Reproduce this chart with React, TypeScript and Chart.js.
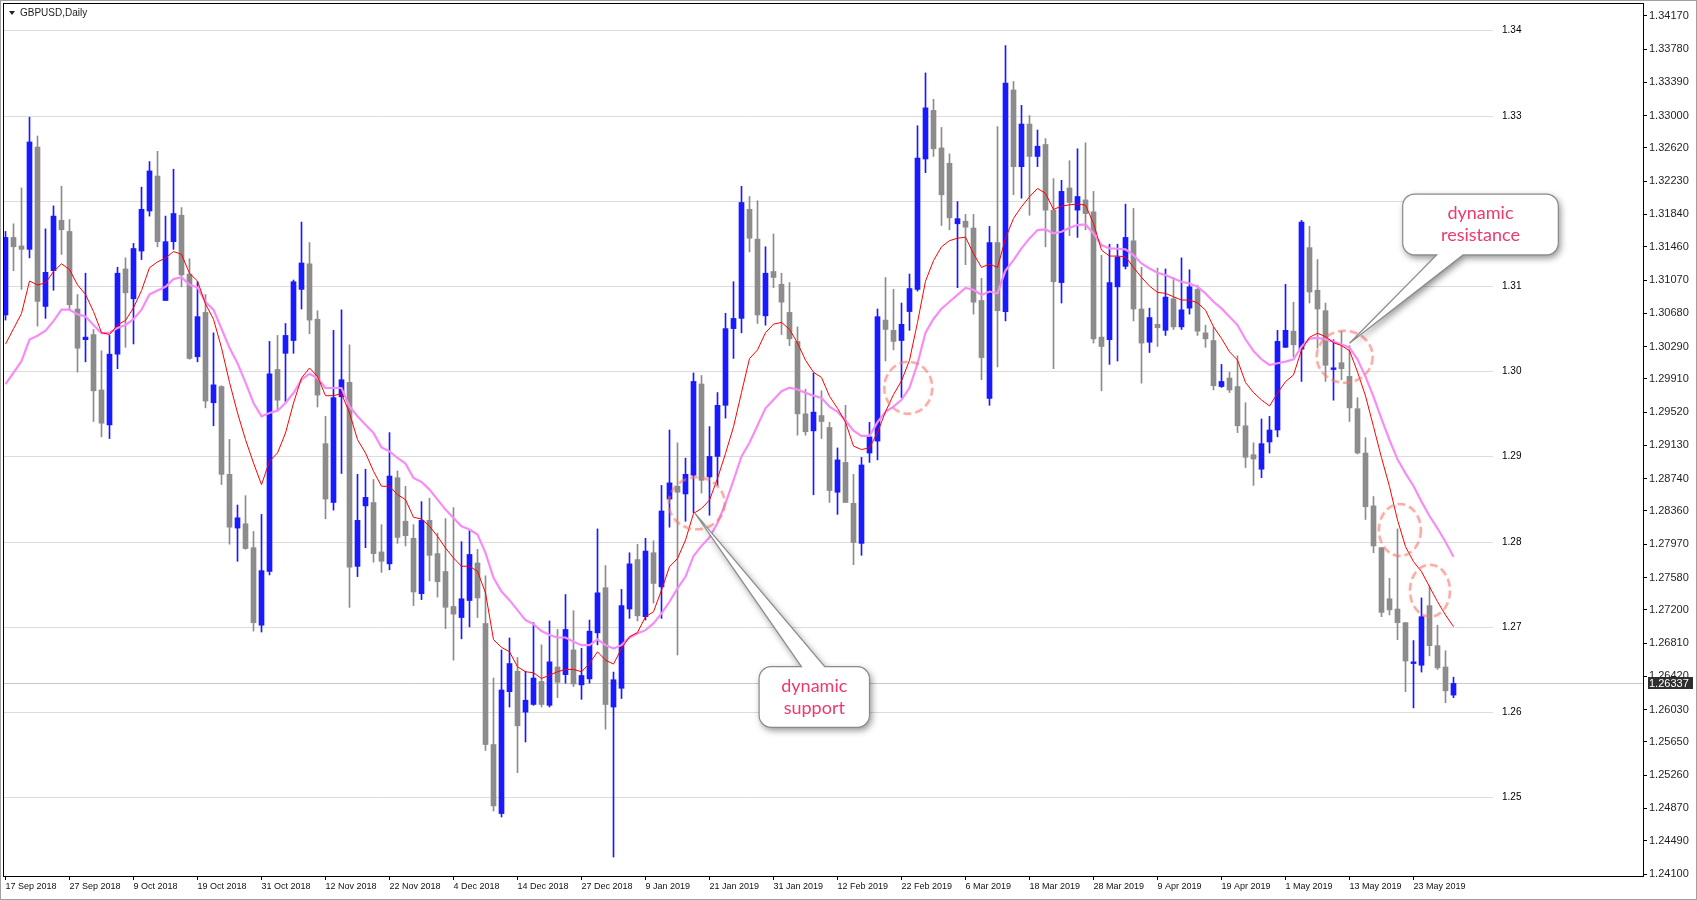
import React, { useEffect, useRef } from "react";
import { Chart, registerables } from "chart.js";

Chart.register(...registerables);

// ---------- DATA (GBPUSD Daily, one value per candle) ----------
const openP = [
  1.3066, 1.3157, 1.3147, 1.3143, 1.3263, 1.3076, 1.3118, 1.3177, 1.3164, 1.3073,
  1.3037, 1.3043, 1.2978, 1.2937, 1.3020, 1.3120, 1.3085, 1.3141, 1.3188, 1.3229,
  1.3083, 1.3152, 1.3183, 1.3114, 1.3017, 1.3069, 1.2963, 1.2982, 1.2879, 1.2816,
  1.2821, 1.2793, 1.2702, 1.2765, 1.3002, 1.3021, 1.3036, 1.3096, 1.3126, 1.3061,
  1.2915, 1.2846, 1.2970, 1.2987, 1.2771, 1.2842, 1.2846, 1.2788, 1.2774, 1.2875,
  1.2824, 1.2804, 1.2739, 1.2825, 1.2786, 1.2765, 1.2724, 1.2711, 1.2731, 1.2775,
  1.2704, 1.2562, 1.2481, 1.2624, 1.2648, 1.2600, 1.2609, 1.2636, 1.2608, 1.2653,
  1.2644, 1.2673, 1.2632, 1.2639, 1.2693, 1.2746, 1.2606, 1.2628, 1.2721, 1.2779,
  1.2712, 1.2787, 1.2747, 1.2850, 1.2865, 1.2856, 1.2878, 1.2985, 1.2876, 1.2900,
  1.2960, 1.3050, 1.3062, 1.3190, 1.3155, 1.3065, 1.3117, 1.3102, 1.3069, 1.3035,
  1.2950, 1.2930, 1.2948, 1.2934, 1.2858, 1.2893, 1.2845, 1.2798, 1.2904, 1.2918,
  1.3060, 1.3048, 1.3036, 1.3070, 1.3096, 1.3249, 1.3306, 1.3262, 1.3244, 1.3173,
  1.3176, 1.3168, 1.3083, 1.2968, 1.3151, 1.3070, 1.3330, 1.3240, 1.3290, 1.3252,
  1.3266, 1.3189, 1.3104, 1.3215, 1.3189, 1.3201, 1.3187, 1.3040, 1.3037, 1.3099,
  1.3123, 1.3153, 1.3073, 1.3034, 1.3055, 1.3048, 1.3085, 1.3052, 1.3074, 1.3096,
  1.3045, 1.3036, 1.2982, 1.2992, 1.2982, 1.2936, 1.2902, 1.2885, 1.2917, 1.2931,
  1.3028, 1.3047, 1.3026, 1.3145, 1.3095, 1.3071, 1.3002, 1.3010, 1.2994, 1.2956,
  1.2904, 1.2842, 1.2793, 1.2733, 1.2721, 1.2705, 1.2657, 1.2655, 1.2725, 1.2678,
  1.2653, 1.2620,
];
const highP = [
  1.3164, 1.3173, 1.3215, 1.3298, 1.3276, 1.3167, 1.3194, 1.3217, 1.3178, 1.3090,
  1.3115, 1.3049, 1.3024, 1.3042, 1.3122, 1.3133, 1.3150, 1.3216, 1.3246, 1.3258,
  1.3182, 1.3237, 1.3192, 1.3132, 1.3105, 1.3090, 1.3045, 1.2983, 1.2920, 1.2843,
  1.2854, 1.2812, 1.2832, 1.3035, 1.3042, 1.3056, 1.3107, 1.3175, 1.3151, 1.3071,
  1.2947, 1.3048, 1.3072, 1.3031, 1.2879, 1.2885, 1.2873, 1.2820, 1.2928, 1.2883,
  1.2865, 1.2820, 1.2847, 1.2851, 1.2810, 1.2827, 1.2840, 1.2800, 1.2813, 1.2791,
  1.2760, 1.2640, 1.2673, 1.2687, 1.2664, 1.2648, 1.2705, 1.2679, 1.2707, 1.2697,
  1.2738, 1.2719, 1.2675, 1.2708, 1.2815, 1.2772, 1.2647, 1.2744, 1.2787, 1.2797,
  1.2804, 1.2801, 1.2866, 1.2931, 1.2916, 1.2898, 1.2998, 1.2995, 1.2935, 1.2975,
  1.3068, 1.3105, 1.3217, 1.3205, 1.3200, 1.3146, 1.3161, 1.3115, 1.3104, 1.3052,
  1.2979, 1.2998, 1.2977, 1.2940, 1.2910, 1.2960, 1.2879, 1.2899, 1.2940, 1.3073,
  1.3110, 1.3096, 1.3080, 1.3114, 1.3288, 1.3350, 1.3319, 1.3286, 1.3255, 1.3199,
  1.3184, 1.3184, 1.3109, 1.3170, 1.3287, 1.3382, 1.3340, 1.3312, 1.3300, 1.3283,
  1.3273, 1.3226, 1.3224, 1.3247, 1.3261, 1.3268, 1.3211, 1.3136, 1.3149, 1.3149,
  1.3196, 1.3191, 1.3122, 1.3074, 1.3121, 1.3120, 1.3110, 1.3133, 1.3119, 1.3101,
  1.3054, 1.3052, 1.3008, 1.2999, 1.3018, 1.2963, 1.2916, 1.2944, 1.2947, 1.3048,
  1.3102, 1.3081, 1.3177, 1.3170, 1.3131, 1.3080, 1.3037, 1.3047, 1.3030, 1.2969,
  1.2922, 1.2853, 1.2793, 1.2757, 1.2815, 1.2705, 1.2684, 1.2734, 1.2748, 1.2702,
  1.2672, 1.2641,
];
const lowP = [
  1.3060, 1.3118, 1.3096, 1.3133, 1.3053, 1.3062, 1.3095, 1.3137, 1.3072, 1.2999,
  1.3011, 1.2941, 1.2923, 1.2921, 1.3003, 1.3028, 1.3032, 1.3131, 1.3182, 1.3146,
  1.3083, 1.3143, 1.3099, 1.3014, 1.3011, 1.2957, 1.2936, 1.2867, 1.2797, 1.2777,
  1.2791, 1.2695, 1.2694, 1.2761, 1.2953, 1.2964, 1.3021, 1.3073, 1.3044, 1.2958,
  1.2827, 1.2837, 1.2880, 1.2723, 1.2759, 1.2793, 1.2776, 1.2764, 1.2767, 1.2798,
  1.2795, 1.2725, 1.2732, 1.2754, 1.2735, 1.2698, 1.2661, 1.2686, 1.2700, 1.2711,
  1.2555, 1.2484, 1.2477, 1.2606, 1.2529, 1.2565, 1.2608, 1.2606, 1.2606, 1.2617,
  1.2634, 1.2630, 1.2615, 1.2634, 1.2679, 1.2580, 1.2430, 1.2616, 1.2710, 1.2707,
  1.2708, 1.2728, 1.2710, 1.2817, 1.2667, 1.2824, 1.2834, 1.2857, 1.2831, 1.2866,
  1.2945, 1.3015, 1.3045, 1.3140, 1.3056, 1.3054, 1.3098, 1.3043, 1.3030, 1.2925,
  1.2925, 1.2855, 1.2921, 1.2846, 1.2832, 1.2846, 1.2773, 1.2784, 1.2893, 1.2896,
  1.3012, 1.3025, 1.2969, 1.3048, 1.3094, 1.3233, 1.3252, 1.3171, 1.3166, 1.3098,
  1.3125, 1.3067, 1.2990, 1.2960, 1.3005, 1.3059, 1.3207, 1.3203, 1.3183, 1.3240,
  1.3146, 1.3003, 1.3080, 1.3159, 1.3157, 1.3166, 1.3033, 1.2977, 1.3008, 1.3012,
  1.3120, 1.3059, 1.2986, 1.3022, 1.3029, 1.3042, 1.3049, 1.3049, 1.3067, 1.3042,
  1.3028, 1.2978, 1.2981, 1.2975, 1.2928, 1.2887, 1.2866, 1.2875, 1.2904, 1.2923,
  1.3028, 1.3017, 1.2988, 1.3080, 1.3027, 1.2988, 1.2966, 1.2990, 1.2941, 1.2903,
  1.2826, 1.2787, 1.2712, 1.2714, 1.2685, 1.2624, 1.2605, 1.2647, 1.2666, 1.2650,
  1.2611, 1.2617,
];
const closeP = [
  1.3157, 1.3146, 1.3143, 1.3269, 1.3082, 1.3116, 1.3182, 1.3166, 1.3078, 1.3027,
  1.3040, 1.2977, 1.2939, 1.3020, 1.3115, 1.3092, 1.3144, 1.3190, 1.3235, 1.3152,
  1.3152, 1.3185, 1.3113, 1.3015, 1.3064, 1.2965, 1.2984, 1.2879, 1.2817, 1.2828,
  1.2792, 1.2705, 1.2766, 1.2997, 1.2966, 1.3042, 1.3105, 1.3127, 1.3060, 1.2972,
  1.2850, 1.2969, 1.2990, 1.2770, 1.2825, 1.2852, 1.2786, 1.2777, 1.2877, 1.2805,
  1.2807, 1.2741, 1.2825, 1.2784, 1.2753, 1.2723, 1.2715, 1.2733, 1.2785, 1.2734,
  1.2562, 1.2490, 1.2626, 1.2657, 1.2584, 1.2614, 1.2640, 1.2609, 1.2659, 1.2635,
  1.2697, 1.2633, 1.2643, 1.2695, 1.2740, 1.2609, 1.2638, 1.2725, 1.2774, 1.2713,
  1.2789, 1.2751, 1.2836, 1.2869, 1.2858, 1.2879, 1.2988, 1.2872, 1.2900, 1.2960,
  1.3050, 1.3062, 1.3198, 1.3156, 1.3066, 1.3115, 1.3110, 1.3081, 1.3038, 1.2950,
  1.2929, 1.2952, 1.2941, 1.2860, 1.2896, 1.2846, 1.2799, 1.2890, 1.2923, 1.3064,
  1.3049, 1.3035, 1.3055, 1.3097, 1.3250, 1.3309, 1.3261, 1.3207, 1.3180, 1.3179,
  1.3169, 1.3081, 1.3016, 1.3151, 1.3071, 1.3338, 1.3240, 1.3290, 1.3252, 1.3264,
  1.3189, 1.3105, 1.3211, 1.3198, 1.3205, 1.3185, 1.3038, 1.3029, 1.3104, 1.3134,
  1.3157, 1.3073, 1.3033, 1.3063, 1.3051, 1.3087, 1.3052, 1.3072, 1.3099, 1.3047,
  1.3038, 1.2983, 1.2988, 1.2978, 1.2936, 1.2899, 1.2897, 1.2915, 1.2931, 1.3035,
  1.3048, 1.3031, 1.3175, 1.3093, 1.3073, 1.3007, 1.3004, 1.3003, 1.2957, 1.2904,
  1.2841, 1.2795, 1.2717, 1.2720, 1.2705, 1.2660, 1.2659, 1.2712, 1.2678, 1.2652,
  1.2625, 1.26337,
];
// fast moving average (red)
const fastMA = [
  1.30318, 1.30498, 1.30677, 1.31058, 1.31013, 1.31036, 1.3117, 1.3126, 1.31193, 1.31013,
  1.30901, 1.307, 1.30453, 1.3043, 1.30543, 1.30596, 1.30744, 1.30946, 1.31215, 1.31283,
  1.31327, 1.31404, 1.31372, 1.31148, 1.31058, 1.30789, 1.3061, 1.30274, 1.2987, 1.29511,
  1.29197, 1.28923, 1.28669, 1.28943, 1.29041, 1.29275, 1.29627, 1.2992, 1.30038, 1.2994,
  1.29713, 1.29713, 1.29737, 1.2951, 1.29197, 1.29041, 1.28826, 1.2865, 1.2865, 1.28552,
  1.28493, 1.28286, 1.28267, 1.28181, 1.28063, 1.27926, 1.27809, 1.27712, 1.27712, 1.27653,
  1.27399, 1.26851, 1.2676, 1.26708, 1.26532, 1.26474, 1.26462, 1.26395, 1.26434, 1.26474,
  1.26501, 1.26501, 1.26474, 1.26571, 1.26708, 1.2661, 1.26564, 1.26747, 1.26884, 1.26935,
  1.27119, 1.27178, 1.27432, 1.27706, 1.27803, 1.28018, 1.28331, 1.2839, 1.28488, 1.28742,
  1.29035, 1.29348, 1.2975, 1.30149, 1.3025, 1.30452, 1.30552, 1.30573, 1.30492, 1.30331,
  1.30129, 1.29988, 1.29927, 1.29706, 1.29565, 1.29403, 1.29121, 1.29081, 1.29101, 1.29282,
  1.29524, 1.29726, 1.29887, 1.30129, 1.30573, 1.31056, 1.31298, 1.3146, 1.31532, 1.3156,
  1.31573, 1.31379, 1.31218, 1.31258, 1.31218, 1.3156, 1.31793, 1.3193, 1.32047, 1.32145,
  1.32086, 1.31898, 1.31937, 1.31953, 1.31961, 1.31949, 1.31734, 1.31421, 1.31351, 1.31351,
  1.31343, 1.31218, 1.31101, 1.30999, 1.30925, 1.30913, 1.30874, 1.30835, 1.30835, 1.30803,
  1.30717, 1.30522, 1.30385, 1.30228, 1.30131, 1.29867, 1.2975, 1.29663, 1.29592, 1.29741,
  1.29878, 1.29956, 1.30249, 1.30398, 1.30445, 1.30406, 1.30335, 1.303, 1.30241, 1.29991,
  1.2971, 1.2935, 1.28986, 1.28646, 1.28255, 1.27942, 1.27766, 1.27648, 1.27472, 1.27296,
  1.2714, 1.27003,
];
// slow moving average (violet)
const slowMA = [
  1.29848, 1.29982, 1.30117, 1.30372, 1.30417, 1.30475, 1.30587, 1.30722, 1.30722, 1.30668,
  1.30641, 1.30543, 1.30444, 1.30453, 1.30507, 1.30543, 1.3061, 1.30722, 1.30901, 1.30946,
  1.30991, 1.31081, 1.31103, 1.31013, 1.30982, 1.30812, 1.30722, 1.30498, 1.30274, 1.30094,
  1.2987, 1.29627, 1.29471, 1.2951, 1.29537, 1.29627, 1.29744, 1.29901, 1.29971, 1.2992,
  1.29803, 1.29803, 1.29803, 1.29588, 1.29471, 1.29373, 1.29275, 1.29107, 1.2906, 1.28982,
  1.28916, 1.28747, 1.28701, 1.28611, 1.28493, 1.28376, 1.28278, 1.28181, 1.28142, 1.28083,
  1.27868, 1.27575, 1.27415, 1.27314, 1.27197, 1.2708, 1.27033, 1.26951, 1.26904, 1.26876,
  1.26876, 1.26826, 1.26786, 1.26786, 1.26853, 1.26786, 1.26747, 1.26786, 1.26876, 1.26923,
  1.26962, 1.27041, 1.27158, 1.27295, 1.27451, 1.27588, 1.2783, 1.2795, 1.2805, 1.2822,
  1.2845, 1.2872, 1.29, 1.29161, 1.29363, 1.29565, 1.29665, 1.29766, 1.29806, 1.29786,
  1.29746, 1.29714, 1.29685, 1.29585, 1.29524, 1.29423, 1.29302, 1.29242, 1.29242, 1.29403,
  1.29524, 1.29585, 1.29665, 1.29806, 1.30089, 1.30452, 1.30613, 1.30734, 1.30815, 1.30895,
  1.30976, 1.30956, 1.30895, 1.30935, 1.30915, 1.31182, 1.31304, 1.31441, 1.31558, 1.31656,
  1.31664, 1.31617, 1.31636, 1.31683, 1.31715, 1.31722, 1.31617, 1.3148, 1.31441, 1.31437,
  1.31429, 1.31363, 1.31265, 1.31206, 1.31155, 1.31128, 1.31089, 1.3105, 1.3103, 1.30991,
  1.30913, 1.30815, 1.30737, 1.30639, 1.30541, 1.30375, 1.30238, 1.3014, 1.30073, 1.30093,
  1.30112, 1.3014, 1.30288, 1.30382, 1.3039, 1.30374, 1.30347, 1.30316, 1.30277, 1.3014,
  1.29936, 1.29702, 1.2944, 1.29193, 1.28966, 1.28802, 1.28653, 1.2847, 1.28301, 1.28157,
  1.28, 1.27824,
];
// one date label every 8 candles
const dateLabels = [
  "17 Sep 2018", "27 Sep 2018", "9 Oct 2018", "19 Oct 2018", "31 Oct 2018", "12 Nov 2018",
  "22 Nov 2018", "4 Dec 2018", "14 Dec 2018", "27 Dec 2018", "9 Jan 2019", "21 Jan 2019",
  "31 Jan 2019", "12 Feb 2019", "22 Feb 2019", "6 Mar 2019", "18 Mar 2019", "28 Mar 2019",
  "9 Apr 2019", "19 Apr 2019", "1 May 2019", "13 May 2019", "23 May 2019",
];
const labelEvery = 8;
const priceTicks = [
  1.3417, 1.3378, 1.3339, 1.33, 1.3262, 1.3223, 1.3184, 1.3146, 1.3107, 1.3068,
  1.3029, 1.2991, 1.2952, 1.2913, 1.2874, 1.2836, 1.2797, 1.2758, 1.272, 1.2681,
  1.2642, 1.2603, 1.2565, 1.2526, 1.2487, 1.2449, 1.241,
];
const levelLines = [1.25, 1.26, 1.27, 1.28, 1.29, 1.3, 1.31, 1.32, 1.33, 1.34];
const lastPrice = 1.26337;
const symbolTitle = "GBPUSD,Daily";

// ---------- annotations (in data coordinates: candle index, price) ----------
const markCircles = [
  { i: 86.4, p: 1.2845, rx: 28, ry: 26 },
  { i: 112.85, p: 1.29806, rx: 24, ry: 26 },
  { i: 167.4, p: 1.3017, rx: 28, ry: 26 },
  { i: 174.3, p: 1.28137, rx: 21, ry: 26 },
  { i: 178.06, p: 1.27425, rx: 20, ry: 26 },
];
const callouts = [
  {
    lines: ["dynamic", "support"],
    box: { i0: 94.2, i1: 108.0, pTop: 1.26533, pBot: 1.25822 },
    base: [99.5, 102.4], tip: { i: 86.2, p: 1.28333 }, side: "top",
  },
  {
    lines: ["dynamic", "resistance"],
    box: { i0: 174.65, i1: 194.1, pTop: 1.32079, pBot: 1.31364 },
    base: [178.9, 182.2], tip: { i: 168.0, p: 1.30328 }, side: "bottom",
  },
];

const BULL = "#1a1aff";
const BEAR = "#8c8c8c";

const candleIdx = openP.map((_, i) => i);

const overlayPlugin = {
  id: "mtOverlay",
  beforeDatasetsDraw(chart: any) {
    const { ctx, chartArea: a, scales } = chart;
    const y = scales.y;
    ctx.save();
    ctx.beginPath();
    ctx.rect(a.left, a.top, a.right - a.left, a.bottom - a.top);
    ctx.clip();
    ctx.lineWidth = 1;
    ctx.strokeStyle = "#dcdcdc";
    for (const v of levelLines) {
      const py = Math.round(y.getPixelForValue(v)) + 0.5;
      ctx.beginPath();
      ctx.moveTo(a.left, py);
      ctx.lineTo(a.right - 150, py);
      ctx.stroke();
    }
    const pp = Math.round(y.getPixelForValue(lastPrice)) + 0.5;
    ctx.strokeStyle = "#c8c8c8";
    ctx.beginPath();
    ctx.moveTo(a.left, pp);
    ctx.lineTo(a.right, pp);
    ctx.stroke();
    ctx.restore();
  },
  afterDatasetsDraw(chart: any) {
    const { ctx, chartArea: a, scales } = chart;
    const x = scales.x;
    const y = scales.y;
    ctx.save();
    ctx.beginPath();
    ctx.rect(a.left, a.top, a.right - a.left, a.bottom - a.top);
    ctx.clip();

    // level labels
    ctx.font = "10px 'Liberation Sans', Arial, sans-serif";
    ctx.fillStyle = "#000";
    ctx.textBaseline = "middle";
    ctx.textAlign = "left";
    for (const v of levelLines) {
      const py = Math.round(y.getPixelForValue(v)) + 0.5;
      ctx.fillText(v.toFixed(2), a.right - 141, py);
    }

    // dashed circles
    ctx.save();
    ctx.setLineDash([8, 4]);
    ctx.lineWidth = 2.5;
    ctx.strokeStyle = "rgba(242,120,110,0.55)";
    ctx.shadowColor = "rgba(242,120,110,0.35)";
    ctx.shadowBlur = 3;
    for (const c of markCircles) {
      const cx = x.getPixelForValue(c.i);
      const cy = y.getPixelForValue(c.p);
      ctx.beginPath();
      ctx.ellipse(cx, cy, c.rx, c.ry, 0, 0, Math.PI * 2);
      ctx.stroke();
    }
    ctx.restore();

    // callouts
    for (const co of callouts) {
      const l = x.getPixelForValue(co.box.i0);
      const r = x.getPixelForValue(co.box.i1);
      const t = y.getPixelForValue(co.box.pTop);
      const b = y.getPixelForValue(co.box.pBot);
      const b1 = x.getPixelForValue(co.base[0]);
      const b2 = x.getPixelForValue(co.base[1]);
      const tx = x.getPixelForValue(co.tip.i);
      const ty = y.getPixelForValue(co.tip.p);
      const R = 12;
      const path = () => {
        ctx.beginPath();
        ctx.moveTo(l + R, t);
        if (co.side === "top") {
          ctx.lineTo(b1, t);
          ctx.lineTo(tx, ty);
          ctx.lineTo(b2, t);
        }
        ctx.lineTo(r - R, t);
        ctx.arcTo(r, t, r, t + R, R);
        ctx.lineTo(r, b - R);
        ctx.arcTo(r, b, r - R, b, R);
        if (co.side === "bottom") {
          ctx.lineTo(b2, b);
          ctx.lineTo(tx, ty);
          ctx.lineTo(b1, b);
        }
        ctx.lineTo(l + R, b);
        ctx.arcTo(l, b, l, b - R, R);
        ctx.lineTo(l, t + R);
        ctx.arcTo(l, t, l + R, t, R);
        ctx.closePath();
      };
      ctx.save();
      ctx.shadowColor = "rgba(0,0,0,0.45)";
      ctx.shadowBlur = 7;
      ctx.shadowOffsetX = 2;
      ctx.shadowOffsetY = 3;
      path();
      ctx.fillStyle = "#ffffff";
      ctx.fill();
      ctx.restore();
      path();
      ctx.lineWidth = 1.2;
      ctx.strokeStyle = "#8a8a8a";
      ctx.stroke();

      ctx.fillStyle = "#f0386f";
      ctx.font = "400 18px Lato, 'Open Sans', sans-serif";
      ctx.textAlign = "center";
      ctx.textBaseline = "middle";
      const cx = (l + r) / 2;
      ctx.fillText(co.lines[0], cx, t + 19);
      ctx.fillText(co.lines[1], cx, t + 41);
    }
    ctx.restore();
  },
  afterDraw(chart: any) {
    const { ctx, chartArea: a, scales, width, height } = chart;
    const y = scales.y;
    ctx.save();
    // outer frame
    ctx.strokeStyle = "#a0a0a0";
    ctx.lineWidth = 1;
    ctx.strokeRect(0.5, 0.5, width - 1, height - 1);
    // plot frame
    ctx.strokeStyle = "#000";
    ctx.strokeRect(a.left - 0.5, a.top - 0.5, a.right - a.left + 1, a.bottom - a.top + 1);
    // title
    ctx.fillStyle = "#222";
    ctx.beginPath();
    ctx.moveTo(9, 11);
    ctx.lineTo(15, 11);
    ctx.lineTo(12, 15);
    ctx.closePath();
    ctx.fill();
    ctx.font = "10px 'Liberation Sans', Arial, sans-serif";
    ctx.textAlign = "left";
    ctx.textBaseline = "middle";
    ctx.fillText(symbolTitle, 20, 13.5);
    // last price box
    const py = Math.round(y.getPixelForValue(lastPrice));
    ctx.fillStyle = "#2e2e2e";
    ctx.fillRect(a.right + 5, py - 6, 45, 12);
    ctx.fillStyle = "#ffffff";
    ctx.font = "11px 'Liberation Sans', Arial, sans-serif";
    ctx.fillText(lastPrice.toFixed(5), a.right + 6, py + 0.5);
    ctx.restore();
  },
};

export default function App() {
  const ref = useRef<HTMLCanvasElement | null>(null);
  useEffect(() => {
    if (!ref.current) return;
    const chart = new Chart(ref.current, {
      type: "bar",
      data: {
        datasets: [
          {
            type: "line",
            label: "fast MA",
            data: candleIdx.map((i) => ({ x: i, y: fastMA[i] })),
            borderColor: "#ff0000",
            borderWidth: 1,
            pointRadius: 0,
            tension: 0,
            order: -1,
          } as any,
          {
            type: "line",
            label: "slow MA",
            data: candleIdx.map((i) => ({ x: i, y: slowMA[i] })),
            borderColor: "#f78cf7",
            borderWidth: 2.2,
            pointRadius: 0,
            tension: 0,
            order: 0,
          } as any,
          {
            type: "bar",
            label: "body",
            data: candleIdx.map((i) => ({ x: i, y: [openP[i], closeP[i]] })),
            backgroundColor: candleIdx.map((i) => (closeP[i] >= openP[i] ? BULL : BEAR)),
            barThickness: 5,
            minBarLength: 1,
            grouped: false,
            borderWidth: 0,
            order: 1,
          } as any,
          {
            type: "bar",
            label: "wick",
            data: candleIdx.map((i) => ({ x: i, y: [lowP[i], highP[i]] })),
            backgroundColor: candleIdx.map((i) => (closeP[i] >= openP[i] ? BULL : BEAR)),
            barThickness: 1,
            grouped: false,
            borderWidth: 0,
            order: 2,
          } as any,
        ],
      },
      options: {
        animation: false,
        responsive: false,
        events: [],
        layout: { padding: { left: 4, top: 4, right: 0, bottom: 0 } },
        plugins: {
          legend: { display: false },
          tooltip: { enabled: false },
        },
        scales: {
          x: {
            type: "linear",
            offset: false,
            min: -0.1875,
            max: 204.6875,
            afterBuildTicks: (s: any) => {
              s.ticks = dateLabels.map((_, k) => ({ value: k * labelEvery }));
            },
            afterFit: (s: any) => {
              s.height = 24;
              s.paddingLeft = 0;
              s.paddingRight = 0;
            },
            ticks: {
              callback: (_v: any, k: number) => dateLabels[k],
              align: "start",
              autoSkip: false,
              maxRotation: 0,
              minRotation: 0,
              padding: 1,
              color: "#111",
              font: { family: "'Liberation Sans', Arial, sans-serif", size: 9 },
            },
            grid: { offset: false, drawOnChartArea: false, tickLength: 4, color: "#000" },
            border: { display: false },
          },
          y: {
            type: "linear",
            position: "right",
            min: 1.240774,
            max: 1.343086,
            afterBuildTicks: (s: any) => {
              s.ticks = priceTicks.map((v) => ({ value: v }));
            },
            afterFit: (s: any) => {
              s.width = 54;
              s.paddingTop = 0;
              s.paddingBottom = 0;
            },
            ticks: {
              callback: (v: any) => Number(v).toFixed(5),
              autoSkip: false,
              padding: 2,
              color: "#1e1e28",
              font: { family: "'Liberation Sans', Arial, sans-serif", size: 11 },
            },
            grid: { drawOnChartArea: false, tickLength: 4, color: "#000" },
            border: { display: false },
          },
        },
      } as any,
      plugins: [overlayPlugin],
    });
    return () => chart.destroy();
  }, []);
  return (
    <div style={{ position: "fixed", left: 0, top: 0, width: 1697, height: 900, background: "#fff" }}>
      <canvas ref={ref} width={1697} height={900} style={{ display: "block" }} />
    </div>
  );
}
